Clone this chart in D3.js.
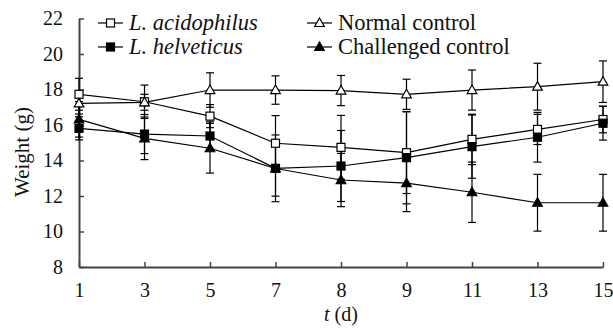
<!DOCTYPE html>
<html><head><meta charset="utf-8">
<script src="https://cdn.jsdelivr.net/npm/d3@7"></script>
<style>body{margin:0;background:#fff}svg{display:block}</style>
</head><body>
<svg id="c" width="613" height="328"></svg>
<script>
const days = ["1","3","5","7","8","9","11","13","15"];
const yTicks = [8,10,12,14,16,18,20,22];
const acid = [17.73,17.31,16.5,14.97,14.74,14.44,15.19,15.75,16.31];
const acidErr = [0.9,0.94,0.65,1.56,1.8,2.3,1.42,0.85,0.75];
const helv = [15.81,15.49,15.38,13.56,13.69,14.16,14.78,15.31,16.1];
const helvErr = [0.65,1.1,0.8,1.88,2.0,2.6,1.78,1.4,0.95];
const normal = [17.22,17.28,17.97,17.97,17.94,17.73,17.97,18.16,18.44];
const normalErr = [0.6,0.45,0.97,0.8,0.85,0.85,1.13,1.32,1.17];
const chal = [16.32,15.25,14.69,13.55,12.9,12.72,12.21,11.62,11.62];
const chalErr = [1.0,1.2,1.4,1.56,1.5,1.6,1.7,1.6,1.6];
const names = ["L. acidophilus","L. helveticus","Normal control","Challenged control"];

const series = [
  {name:names[0], vals:acid, err:acidErr, shape:"square", fill:"#fff", italic:true},
  {name:names[1], vals:helv, err:helvErr, shape:"square", fill:"#000", italic:true},
  {name:names[2], vals:normal, err:normalErr, shape:"triangle", fill:"#fff", italic:false},
  {name:names[3], vals:chal, err:chalErr, shape:"triangle", fill:"#000", italic:false}
];

const svg = d3.select("#c");
const font = "'Liberation Serif','Times New Roman',serif";
const x = d3.scalePoint().domain(days).range([79, 603]).padding(0);
const y = d3.scaleLinear().domain([8, 22]).range([267, 18.5]);

// axes
const gx = svg.append("g").attr("transform","translate(0,267)")
  .call(d3.axisBottom(x).tickSize(-5).tickSizeOuter(0).tickPadding(16));
const gy = svg.append("g").attr("transform","translate(79,0)")
  .call(d3.axisLeft(y).tickValues(yTicks).tickSize(-5).tickSizeOuter(0).tickPadding(16));
[gx, gy].forEach(g => {
  g.select(".domain").attr("stroke","#444").attr("stroke-width",2);
  g.selectAll(".tick line").attr("stroke","#444").attr("stroke-width",1.5);
  g.selectAll("text").attr("font-family",font).attr("font-size",20).attr("fill","#111");
});

// error bars
const cap = 4;
series.forEach(s => {
  const g = svg.append("g").attr("stroke","#000").attr("stroke-width",1.2);
  days.forEach((d,i) => {
    const cx = x(d), hi = y(s.vals[i]+s.err[i]), lo = y(s.vals[i]-s.err[i]);
    g.append("line").attr("x1",cx).attr("x2",cx).attr("y1",hi).attr("y2",lo);
    g.append("line").attr("x1",cx-cap).attr("x2",cx+cap).attr("y1",hi).attr("y2",hi);
    g.append("line").attr("x1",cx-cap).attr("x2",cx+cap).attr("y1",lo).attr("y2",lo);
  });
});

// lines
const line = d3.line().x((v,i)=>x(days[i])).y(v=>y(v));
series.forEach(s => {
  svg.append("path").attr("d", line(s.vals)).attr("fill","none")
    .attr("stroke","#000").attr("stroke-width",1.2);
});

function marker(g, shape, cx, cy, fill) {
  if (shape === "square") {
    g.append("rect").attr("x",cx-4).attr("y",cy-4).attr("width",8).attr("height",8)
      .attr("fill",fill).attr("stroke","#000").attr("stroke-width",1.2);
  } else {
    g.append("path").attr("d",`M${cx},${cy-5}L${cx+4.8},${cy+3.5}L${cx-4.8},${cy+3.5}Z`)
      .attr("fill",fill).attr("stroke","#000").attr("stroke-width",1.2);
  }
}

// markers
series.forEach(s => {
  const g = svg.append("g");
  days.forEach((d,i) => marker(g, s.shape, x(d), y(s.vals[i]), s.fill));
});

// legend
const legPos = [[98,23],[98,47],[307,23],[307,47]];
series.forEach((s,k) => {
  const [lx, ly] = legPos[k];
  const g = svg.append("g");
  g.append("line").attr("x1",lx).attr("x2",lx+25).attr("y1",ly).attr("y2",ly)
    .attr("stroke","#000").attr("stroke-width",1.2);
  marker(g, s.shape, lx+12.5, ly, s.fill);
  g.append("text").attr("x",lx+31).attr("y",ly+7).attr("font-family",font)
    .attr("font-size",22.5).attr("font-style", s.italic ? "italic" : "normal")
    .attr("fill","#111").text(s.name);
});

// axis titles
svg.append("text").attr("transform","translate(29,152) rotate(-90)")
  .attr("text-anchor","middle").attr("font-family",font).attr("font-size",21)
  .attr("fill","#111").text("Weight (g)");
const xt = svg.append("text").attr("x",341).attr("y",321).attr("text-anchor","middle")
  .attr("font-family",font).attr("font-size",20).attr("fill","#111");
xt.append("tspan").attr("font-style","italic").text("t");
xt.append("tspan").text(" (d)");
</script>
</body></html>
